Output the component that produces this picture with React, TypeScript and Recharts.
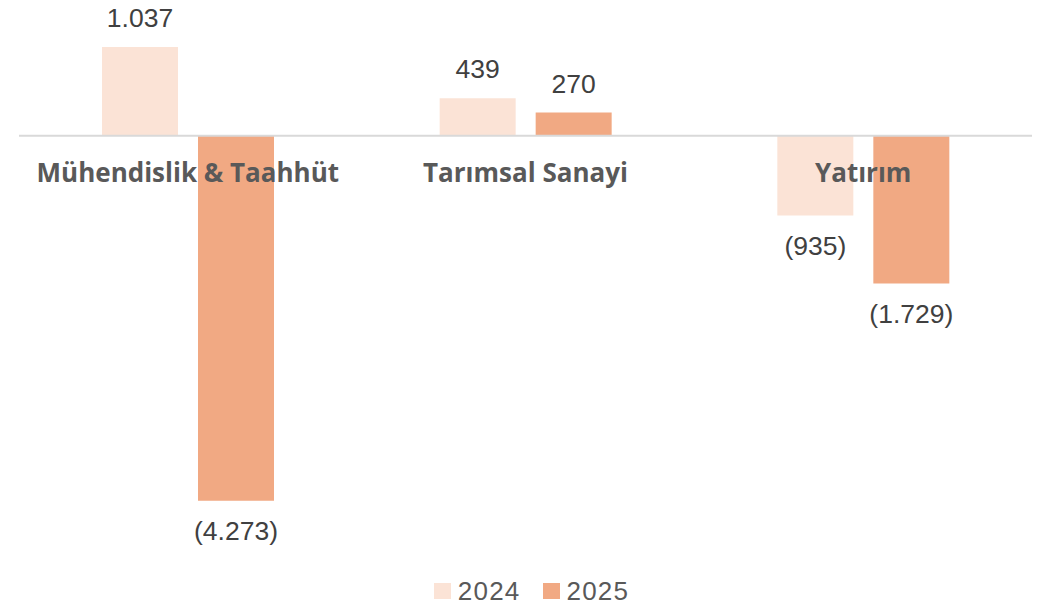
import React from "react";
import {
  ComposedChart,
  Bar,
  Line,
  XAxis,
  YAxis,
  Legend,
  LabelList,
  ReferenceLine,
} from "recharts";

const categories = ["Mühendislik & Taahhüt", "Tarımsal Sanayi", "Yatırım"];
const values2024 = [1037, 439, -935];
const values2025 = [-4273, 270, -1729];

const COLOR_2024 = "#FBE3D6";
const COLOR_2025 = "#F1A983";

const data = categories.map((name, i) => ({
  name,
  y2024: values2024[i],
  y2025: values2025[i],
  zero: 0,
}));

function fmt(v: number) {
  const s = Math.abs(v)
    .toString()
    .replace(/\B(?=(\d{3})+(?!\d))/g, ".");
  return v < 0 ? `(${s})` : s;
}

function ValueLabel(props: any) {
  const { x, y, width, height, value } = props;
  const top = Math.min(y, y + height);
  const bottom = Math.max(y, y + height);
  const cy = value >= 0 ? top - 29 : bottom + 30;
  return (
    <text
      x={x + width / 2}
      y={cy}
      dy="0.35em"
      textAnchor="middle"
      fill="#404040"
      fontSize={26.5}
      fontFamily="'Liberation Sans', Arial, sans-serif"
    >
      {fmt(value)}
    </text>
  );
}

function CategoryLabel(props: any) {
  const { x, y, value } = props;
  return (
    <text
      x={x}
      y={y + 37}
      dy="0.35em"
      textAnchor="middle"
      fill="#595959"
      fontSize={26}
      fontWeight={700}
      fontFamily="'Open Sans', sans-serif"
    >
      {value}
    </text>
  );
}

function LegendContent() {
  const items = [
    { label: "2024", color: COLOR_2024 },
    { label: "2025", color: COLOR_2025 },
  ];
  return (
    <div
      style={{
        display: "flex",
        justifyContent: "center",
        alignItems: "center",
        height: 36,
        paddingLeft: 12,
        fontFamily: "'Liberation Sans', Arial, sans-serif",
        fontSize: 26,
        letterSpacing: 1.2,
        color: "#595959",
      }}
    >
      {items.map((it) => (
        <div key={it.label} style={{ display: "flex", alignItems: "center", margin: "0 11px" }}>
          <span style={{ width: 17, height: 16, background: it.color, marginRight: 7 }} />
          <span>{it.label}</span>
        </div>
      ))}
    </div>
  );
}

export default function App() {
  return (
    <div style={{ position: "absolute", left: 0, top: 0, width: 1051, height: 607, background: "#fff" }}>
      <ComposedChart
        width={1051}
        height={607}
        data={data}
        margin={{ top: 7.5, right: 19, left: 19, bottom: 8 }}
        barSize={76}
        barGap={20}
      >
        <XAxis dataKey="name" hide />
        <YAxis hide domain={[-5000, 1500]} />
        <Legend
          verticalAlign="bottom"
          content={<LegendContent />}
          wrapperStyle={{ bottom: -2 }}
        />
        <Bar dataKey="y2024" name="2024" fill={COLOR_2024} isAnimationActive={false}>
          <LabelList dataKey="y2024" content={<ValueLabel />} />
        </Bar>
        <Bar dataKey="y2025" name="2025" fill={COLOR_2025} isAnimationActive={false}>
          <LabelList dataKey="y2025" content={<ValueLabel />} />
        </Bar>
        <ReferenceLine y={0} stroke="#D9D9D9" strokeWidth={2} />
        <Line
          dataKey="zero"
          stroke="none"
          dot={false}
          activeDot={false}
          legendType="none"
          isAnimationActive={false}
        >
          <LabelList dataKey="name" content={<CategoryLabel />} />
        </Line>
      </ComposedChart>
    </div>
  );
}
